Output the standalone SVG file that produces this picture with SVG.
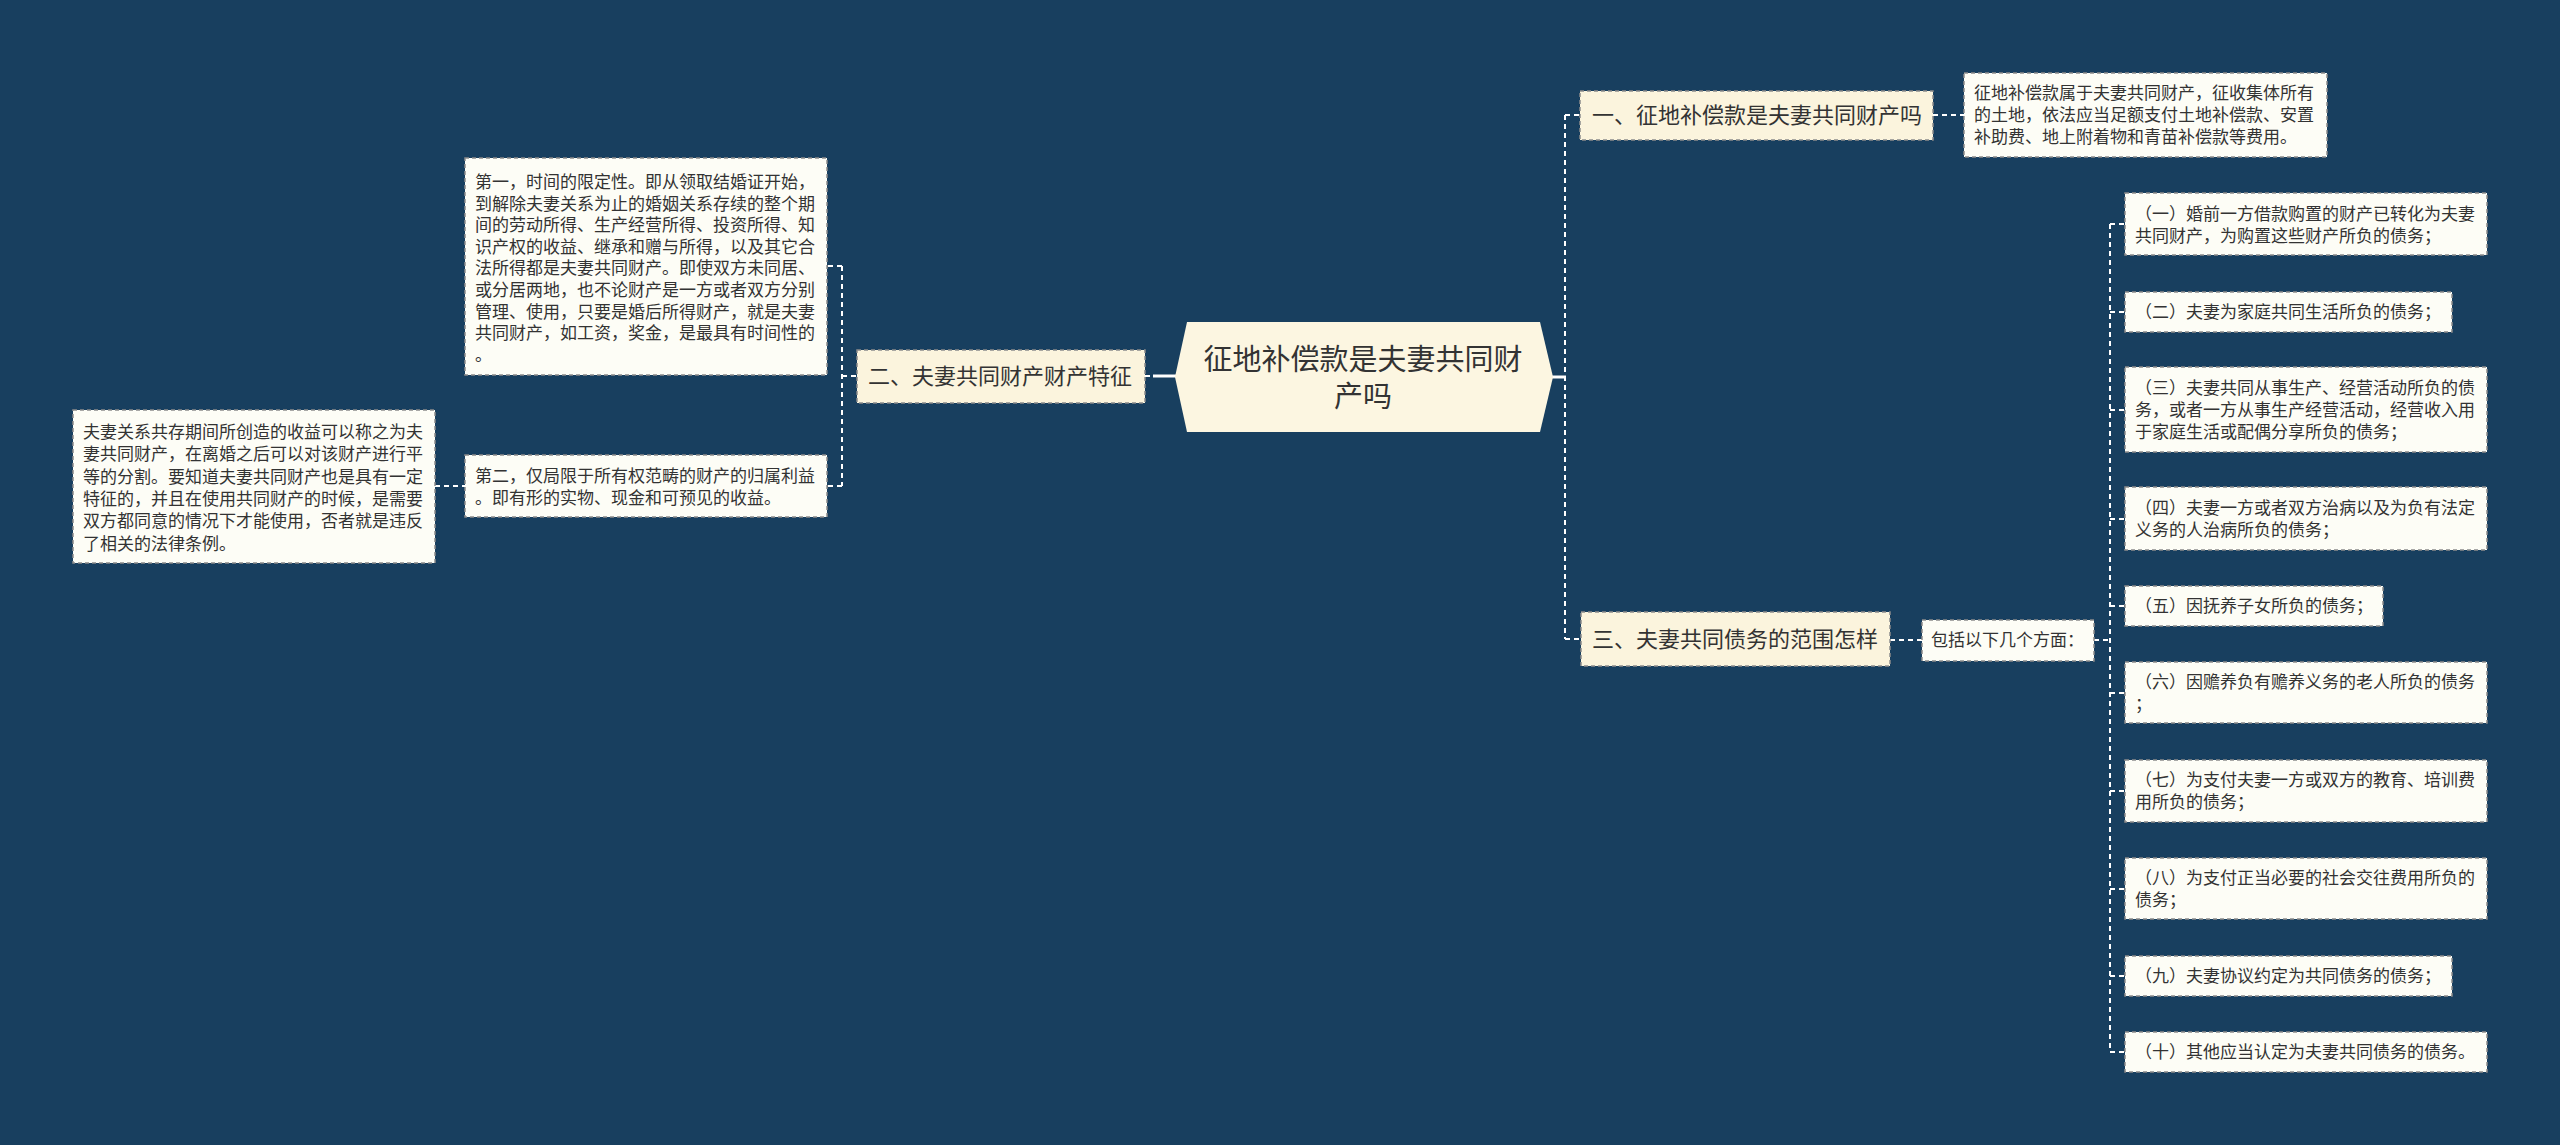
<svg xmlns="http://www.w3.org/2000/svg" width="2560" height="1145" viewBox="0 0 2560 1145">
<style>
text{font-family:"Noto Sans CJK SC","Noto Sans",sans-serif;fill:#333333;}
.t17{font-size:17px;}
.t22{font-size:22px;}
.t29{font-size:29px;}
.l1{fill:#fbf4dd;stroke:#8c8c8c;stroke-width:1.5;stroke-dasharray:4 3;}
.leaf{fill:#fdfdf6;stroke:#8c8c8c;stroke-width:1.5;stroke-dasharray:4 3;}
.dash{fill:none;stroke:#ffffff;stroke-width:2;stroke-dasharray:5 4;}
.solid{fill:none;stroke:#ffffff;stroke-width:3;}
</style>
<rect x="0" y="0" width="2560" height="1145" fill="#183f5f"/>
<g id="connectors">
<line class="solid" x1="1552" y1="377" x2="1566" y2="377"/>
<path class="dash" d="M1565 115 V639 M1565 115 H1580 M1565 639 H1581"/>
<line class="dash" x1="1933" y1="115" x2="1964" y2="115"/>
<line class="dash" x1="1890" y1="640" x2="1922" y2="640"/>
<line class="dash" x1="2094" y1="640" x2="2110" y2="640"/>
<path class="dash" d="M2110 224 V1052 M2110 224 H2125 M2110 312 H2125 M2110 410 H2125 M2110 519 H2125 M2110 606 H2125 M2110 693 H2125 M2110 791 H2125 M2110 889 H2125 M2110 976 H2125 M2110 1052 H2125"/>
<line class="solid" x1="1153" y1="376" x2="1177" y2="376"/>
<line class="dash" x1="1145" y1="376" x2="1150" y2="376"/>
<path class="dash" d="M842 266 V486 M842 376 H857 M842 266 H827 M842 486 H827"/>
<line class="dash" x1="435" y1="486" x2="465" y2="486"/>
</g>
<g id="root">
<polygon points="1187,322 1540,322 1553,377 1540,432 1187,432 1175,377" fill="#fcf6e1"/>
<text class="t29" text-anchor="middle" x="1363" y="370">征地补偿款是夫妻共同财</text>
<text class="t29" text-anchor="middle" x="1363" y="407">产吗</text>
</g>
<g id="b1">
<rect class="l1" x="1580" y="91" width="353" height="49"/>
<text class="t22" x="1592" y="123">一、征地补偿款是夫妻共同财产吗</text>
</g>
<g id="b1-leaf">
<rect class="leaf" x="1964" y="73" width="363" height="84"/>
<text class="t17" x="1974"><tspan x="1974" y="99">征地补偿款属于夫妻共同财产，征收集体所有</tspan><tspan x="1974" y="121">的土地，依法应当足额支付土地补偿款、安置</tspan><tspan x="1974" y="143">补助费、地上附着物和青苗补偿款等费用。</tspan></text>
</g>
<g id="b3">
<rect class="l1" x="1581" y="612" width="309" height="54"/>
<text class="t22" x="1592" y="647">三、夫妻共同债务的范围怎样</text>
</g>
<g id="b3-sub">
<rect class="leaf" x="1922" y="620" width="172" height="41"/>
<text class="t17" x="1931" y="646">包括以下几个方面：</text>
</g>
<g id="item1">
<rect class="leaf" x="2125" y="193" width="362" height="62"/>
<text class="t17"><tspan x="2135" y="220">（一）婚前一方借款购置的财产已转化为夫妻</tspan><tspan x="2135" y="242">共同财产，为购置这些财产所负的债务；</tspan></text>
</g>
<g id="item2">
<rect class="leaf" x="2125" y="292" width="327" height="40"/>
<text class="t17" x="2135" y="318">（二）夫妻为家庭共同生活所负的债务；</text>
</g>
<g id="item3">
<rect class="leaf" x="2125" y="367" width="362" height="85"/>
<text class="t17"><tspan x="2135" y="394">（三）夫妻共同从事生产、经营活动所负的债</tspan><tspan x="2135" y="416">务，或者一方从事生产经营活动，经营收入用</tspan><tspan x="2135" y="438">于家庭生活或配偶分享所负的债务；</tspan></text>
</g>
<g id="item4">
<rect class="leaf" x="2125" y="487" width="362" height="63"/>
<text class="t17"><tspan x="2135" y="514">（四）夫妻一方或者双方治病以及为负有法定</tspan><tspan x="2135" y="536">义务的人治病所负的债务；</tspan></text>
</g>
<g id="item5">
<rect class="leaf" x="2125" y="586" width="258" height="40"/>
<text class="t17" x="2135" y="612">（五）因抚养子女所负的债务；</text>
</g>
<g id="item6">
<rect class="leaf" x="2125" y="662" width="362" height="61"/>
<text class="t17"><tspan x="2135" y="688">（六）因赡养负有赡养义务的老人所负的债务</tspan><tspan x="2135" y="710">；</tspan></text>
</g>
<g id="item7">
<rect class="leaf" x="2125" y="760" width="362" height="62"/>
<text class="t17"><tspan x="2135" y="786">（七）为支付夫妻一方或双方的教育、培训费</tspan><tspan x="2135" y="808">用所负的债务；</tspan></text>
</g>
<g id="item8">
<rect class="leaf" x="2125" y="858" width="362" height="61"/>
<text class="t17"><tspan x="2135" y="884">（八）为支付正当必要的社会交往费用所负的</tspan><tspan x="2135" y="906">债务；</tspan></text>
</g>
<g id="item9">
<rect class="leaf" x="2125" y="956" width="327" height="40"/>
<text class="t17" x="2135" y="982">（九）夫妻协议约定为共同债务的债务；</text>
</g>
<g id="item10">
<rect class="leaf" x="2125" y="1032" width="362" height="40"/>
<text class="t17" x="2135" y="1058">（十）其他应当认定为夫妻共同债务的债务。</text>
</g>
<g id="b2">
<rect class="l1" x="857" y="350" width="288" height="53"/>
<text class="t22" x="868" y="384">二、夫妻共同财产财产特征</text>
</g>
<g id="b2-leaf1">
<rect class="leaf" x="465" y="158" width="362" height="217"/>
<text class="t17"><tspan x="475" y="188">第一，时间的限定性。即从领取结婚证开始，</tspan><tspan x="475" y="209.6">到解除夫妻关系为止的婚姻关系存续的整个期</tspan><tspan x="475" y="231.2">间的劳动所得、生产经营所得、投资所得、知</tspan><tspan x="475" y="252.8">识产权的收益、继承和赠与所得，以及其它合</tspan><tspan x="475" y="274.4">法所得都是夫妻共同财产。即使双方未同居、</tspan><tspan x="475" y="296">或分居两地，也不论财产是一方或者双方分别</tspan><tspan x="475" y="317.6">管理、使用，只要是婚后所得财产，就是夫妻</tspan><tspan x="475" y="339.2">共同财产，如工资，奖金，是最具有时间性的</tspan><tspan x="475" y="360.8">。</tspan></text>
</g>
<g id="b2-leaf2">
<rect class="leaf" x="465" y="455" width="362" height="62"/>
<text class="t17"><tspan x="475" y="482">第二，仅局限于所有权范畴的财产的归属利益</tspan><tspan x="475" y="504">。即有形的实物、现金和可预见的收益。</tspan></text>
</g>
<g id="b2-leaf2-sub">
<rect class="leaf" x="73" y="410" width="362" height="153"/>
<text class="t17"><tspan x="83" y="438">夫妻关系共存期间所创造的收益可以称之为夫</tspan><tspan x="83" y="460.3">妻共同财产，在离婚之后可以对该财产进行平</tspan><tspan x="83" y="482.6">等的分割。要知道夫妻共同财产也是具有一定</tspan><tspan x="83" y="504.9">特征的，并且在使用共同财产的时候，是需要</tspan><tspan x="83" y="527.2">双方都同意的情况下才能使用，否者就是违反</tspan><tspan x="83" y="549.5">了相关的法律条例。</tspan></text>
</g>
</svg>
